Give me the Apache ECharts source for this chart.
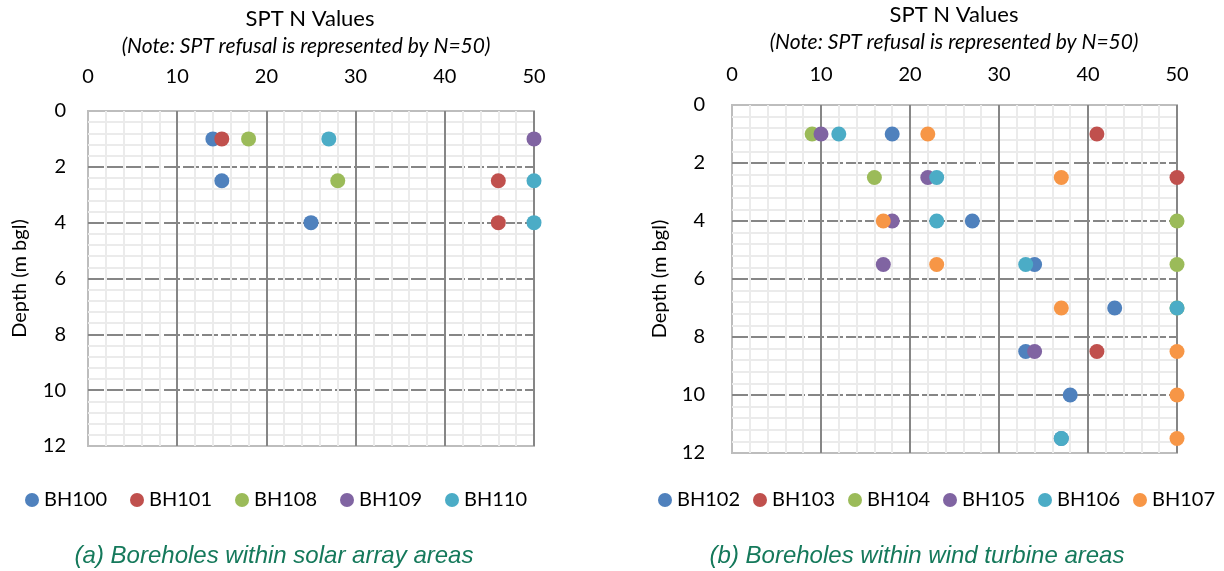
<!DOCTYPE html>
<html><head><meta charset="utf-8">
<script src="https://cdn.jsdelivr.net/npm/echarts@6/dist/echarts.min.js"></script>
<style>html,body{margin:0;padding:0;background:#fff}#c{width:1224px;height:571px}</style>
</head><body><div id="c"></div>
<script>
// Tick settings
const nTicks = [0, 10, 20, 30, 40, 50];
const depthTicks = [0, 2, 4, 6, 8, 10, 12];

// (a) Solar array boreholes: [SPT N, depth (m bgl)]
const BH100 = [[14, 1], [15, 2.5], [25, 4]];
const BH101 = [[15, 1], [46, 2.5], [46, 4]];
const BH108 = [[18, 1], [28, 2.5]];
const BH109 = [[50, 1]];
const BH110 = [[27, 1], [50, 2.5], [50, 4]];

// (b) Wind turbine boreholes: [SPT N, depth (m bgl)]
const BH102 = [[18, 1], [27, 4], [34, 5.5], [43, 7], [33, 8.5], [38, 10], [37, 11.5]];
const BH103 = [[41, 1], [50, 2.5], [41, 8.5]];
const BH104 = [[9, 1], [16, 2.5], [50, 4], [50, 5.5], [50, 7]];
const BH105 = [[10, 1], [22, 2.5], [18, 4], [17, 5.5], [34, 8.5]];
const BH106 = [[12, 1], [23, 2.5], [23, 4], [33, 5.5], [50, 7], [37, 11.5]];
const BH107 = [[22, 1], [37, 2.5], [17, 4], [23, 5.5], [37, 7], [50, 8.5], [50, 10], [50, 11.5]];

const namesA = ['BH100', 'BH101', 'BH108', 'BH109', 'BH110'];
const dataA = [BH100, BH101, BH108, BH109, BH110];
const colorsA = ['#4F81BD', '#C0504D', '#9BBB59', '#8064A2', '#4BACC6'];

const namesB = ['BH102', 'BH103', 'BH104', 'BH105', 'BH106', 'BH107'];
const dataB = [BH102, BH103, BH104, BH105, BH106, BH107];
const colorsB = ['#4F81BD', '#C0504D', '#9BBB59', '#8064A2', '#4BACC6', '#F79646'];

const FONT = 'Lato, "Noto Sans", sans-serif';
const chart = echarts.init(document.getElementById('c'), null, {renderer: 'canvas'});

function xAx(gi, margin) {
  return {
    type: 'value', gridIndex: gi, position: 'top',
    min: nTicks[0], max: nTicks[nTicks.length - 1], interval: nTicks[1] - nTicks[0],
    axisLine: {show: false}, axisTick: {show: false},
    axisLabel: {margin: margin, fontSize: 20, color: '#000', fontFamily: FONT},
    splitLine: {show: true, showMinLine: false, lineStyle: {color: '#868686', width: 2}},
    minorTick: {show: false, splitNumber: 5},
    minorSplitLine: {show: true, lineStyle: {color: '#ebebeb', width: 2}}
  };
}
function yAx(gi, margin, gap) {
  return {
    type: 'value', gridIndex: gi, inverse: true,
    min: depthTicks[0], max: depthTicks[depthTicks.length - 1], interval: depthTicks[1] - depthTicks[0],
    name: 'Depth (m bgl)', nameLocation: 'middle', nameGap: gap,
    nameTextStyle: {fontSize: 20, color: '#000', fontFamily: FONT},
    axisLine: {show: false}, axisTick: {show: false},
    axisLabel: {margin: margin, fontSize: 20, color: '#000', fontFamily: FONT},
    splitLine: {show: true, showMinLine: false, showMaxLine: false,
      lineStyle: {color: '#868686', width: 2, type: [16, 3]}},
    minorTick: {show: false, splitNumber: 5},
    minorSplitLine: {show: true, lineStyle: {color: '#ebebeb', width: 2}}
  };
}

const series = [];
dataA.forEach((d, i) => series.push({
  name: namesA[i], type: 'scatter', xAxisIndex: 0, yAxisIndex: 0, data: d,
  symbolSize: 15, itemStyle: {color: colorsA[i], opacity: 1}, z: 5
}));
dataB.forEach((d, i) => series.push({
  name: namesB[i], type: 'scatter', xAxisIndex: 1, yAxisIndex: 1, data: d,
  symbolSize: 15, itemStyle: {color: colorsB[i], opacity: 1}, z: 5
}));

const legendBase = {
  icon: 'circle', itemWidth: 14, itemHeight: 14, top: 490, padding: 0, width: 600,
  textStyle: {fontSize: 20, color: '#000', fontFamily: FONT},
  selectedMode: false
};

const captionColor = '#15795b';
const capFont = 'italic 24px "Liberation Sans", Arial, sans-serif';
chart.setOption({
  animation: false,
  backgroundColor: '#fff',
  grid: [
    {left: 88, top: 111, width: 446, height: 335, show: true, borderColor: '#bdbdbd', borderWidth: 2, backgroundColor: '#fff'},
    {left: 732, top: 105, width: 445, height: 348, show: true, borderColor: '#bdbdbd', borderWidth: 2, backgroundColor: '#fff'}
  ],
  xAxis: [xAx(0, 24), xAx(1, 20)],
  yAxis: [yAx(0, 22, 58), yAx(1, 27, 62)],
  legend: [
    Object.assign({}, legendBase, {data: namesA, left: 25, itemGap: 23}),
    Object.assign({}, legendBase, {data: namesB, left: 658, itemGap: 13})
  ],
  graphic: [
    {type: 'text', style: {text: 'SPT N Values', x: 310, y: 19, textAlign: 'center', textVerticalAlign: 'middle', font: '22px ' + FONT, fill: '#000'}},
    {type: 'text', style: {text: '(Note: SPT refusal is represented by N=50)', x: 306, y: 46, textAlign: 'center', textVerticalAlign: 'middle', font: 'italic 21px ' + FONT, fill: '#000'}},
    {type: 'text', style: {text: 'SPT N Values', x: 954, y: 15, textAlign: 'center', textVerticalAlign: 'middle', font: '22px ' + FONT, fill: '#000'}},
    {type: 'text', style: {text: '(Note: SPT refusal is represented by N=50)', x: 954, y: 42, textAlign: 'center', textVerticalAlign: 'middle', font: 'italic 21px ' + FONT, fill: '#000'}},
    {type: 'text', style: {text: '(a) Boreholes within solar array areas', x: 274, y: 556, textAlign: 'center', textVerticalAlign: 'middle', font: capFont, fill: captionColor}},
    {type: 'text', style: {text: '(b) Boreholes within wind turbine areas', x: 917, y: 556, textAlign: 'center', textVerticalAlign: 'middle', font: capFont, fill: captionColor}}
  ],
  series: series
});
</script>
</body></html>
